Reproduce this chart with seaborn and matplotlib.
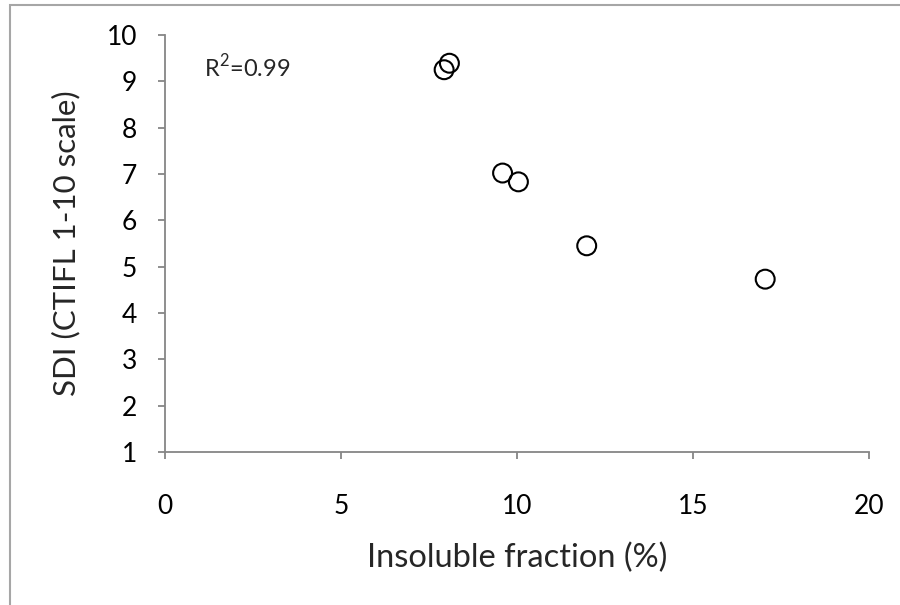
import matplotlib
matplotlib.use('Agg')
import matplotlib.pyplot as plt
from matplotlib.patches import Rectangle
import pandas as pd
import seaborn as sns

# values
insoluble_fraction = [7.93, 8.08, 9.59, 10.04, 11.98, 17.05]
sdi_score = [9.25, 9.39, 7.02, 6.83, 5.45, 4.73]
x_ticks = [0, 5, 10, 15, 20]
y_ticks = [1, 2, 3, 4, 5, 6, 7, 8, 9, 10]
r2_label = r'R$^{\mathregular{2}}$=0.99'

df = pd.DataFrame({'insoluble': insoluble_fraction, 'sdi': sdi_score})

sns.set_style('white')
plt.rcParams['font.family'] = ['Lato', 'DejaVu Sans']
plt.rcParams['mathtext.fontset'] = 'custom'
plt.rcParams['mathtext.rm'] = 'Lato'

fig = plt.figure(figsize=(9, 6.05), dpi=100)
ax = fig.add_axes([0.1833, 0.2529, 0.7823, 0.6893])

sns.scatterplot(
    data=df,
    x='insoluble',
    y='sdi',
    ax=ax,
    marker='o',
    s=185,
    facecolors='none',
    edgecolor='black',
    linewidth=1.5,
)

ax.set_xlim(0, 20)
ax.set_ylim(1, 10)
ax.set_xticks(x_ticks)
ax.set_yticks(y_ticks)

axis_grey = '#868686'
for side in ['top', 'right']:
    ax.spines[side].set_visible(False)
for side in ['left', 'bottom']:
    ax.spines[side].set_color(axis_grey)
    ax.spines[side].set_linewidth(1.3)

ax.tick_params(axis='x', direction='out', length=5, width=1.3, color=axis_grey,
               labelsize=19, pad=25, labelcolor='black')
ax.tick_params(axis='y', direction='out', length=5, width=1.3, color=axis_grey,
               labelsize=19, pad=15, labelcolor='black')
ax.tick_params(bottom=True, left=True)

ax.set_xlabel('Insoluble fraction (%)', fontsize=23.5, labelpad=17)
ax.set_ylabel('SDI (CTIFL 1-10 scale)', fontsize=22.5, labelpad=19)

ax.text(1.1, 9.3, r2_label, fontsize=17, va='center', ha='left')

# outer chart-area border, clipped by the image on the right and bottom
fig.patches.append(Rectangle((10 / 900, -0.2), 1.5, 1.2 - 5 / 605,
                             transform=fig.transFigure, fill=False,
                             edgecolor='#a6a6a6', linewidth=1.5))

fig.savefig('out.png', dpi=100)
